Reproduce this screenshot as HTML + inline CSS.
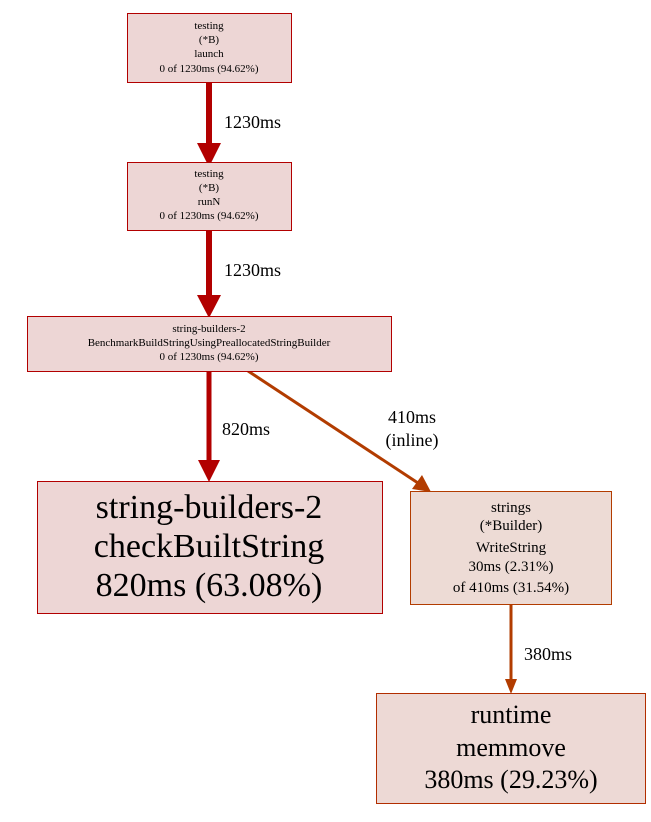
<!DOCTYPE html>
<html><head><meta charset="utf-8"><style>
html,body{margin:0;padding:0;background:#fff;}
text{font-family:"Liberation Serif",serif;}
</style></head><body>
<svg width="651" height="817" viewBox="0 0 651 817" xmlns="http://www.w3.org/2000/svg">
<rect width="651" height="817" fill="#fff"/>
<!-- edges -->
<line x1="209" y1="82" x2="209" y2="145" stroke="#b20000" stroke-width="6"/>
<polygon points="197,143 221,143 209,167" fill="#b20000"/>
<text x="224" y="128" font-size="18">1230ms</text>
<line x1="209" y1="230" x2="209" y2="297" stroke="#b20000" stroke-width="6"/>
<polygon points="197,295 221,295 209,318" fill="#b20000"/>
<text x="224" y="276" font-size="18">1230ms</text>
<line x1="209" y1="371" x2="209" y2="462" stroke="#b20000" stroke-width="5"/>
<polygon points="198,460 220,460 209,482" fill="#b20000"/>
<text x="222" y="435" font-size="18">820ms</text>
<line x1="248" y1="371" x2="418" y2="483" stroke="#b23c00" stroke-width="3"/>
<polygon points="412,489 422,475 431,492" fill="#b23c00"/>
<text x="412" y="423" font-size="18" text-anchor="middle">410ms</text>
<text x="412" y="446" font-size="18" text-anchor="middle">(inline)</text>
<line x1="511" y1="604" x2="511" y2="680" stroke="#b23c00" stroke-width="3"/>
<polygon points="505,679 517,679 511,694" fill="#b23c00"/>
<text x="524" y="660" font-size="18">380ms</text>
<!-- nodes -->
<g font-size="11" text-anchor="middle">
<rect x="127.5" y="13.5" width="164" height="69" fill="#edd6d5" stroke="#b20000"/>
<text x="209" y="29">testing</text><text x="209" y="43">(*B)</text><text x="209" y="57">launch</text><text x="209" y="72">0 of 1230ms (94.62%)</text>
<rect x="127.5" y="162.5" width="164" height="68" fill="#edd6d5" stroke="#b20000"/>
<text x="209" y="177">testing</text><text x="209" y="191">(*B)</text><text x="209" y="205">runN</text><text x="209" y="219">0 of 1230ms (94.62%)</text>
<rect x="27.5" y="316.5" width="364" height="55" fill="#edd6d5" stroke="#b20000"/>
<text x="209" y="332">string-builders-2</text><text x="209" y="346">BenchmarkBuildStringUsingPreallocatedStringBuilder</text><text x="209" y="360">0 of 1230ms (94.62%)</text>
</g>
<rect x="37.5" y="481.5" width="345" height="132" fill="#edd6d5" stroke="#b20000"/>
<g font-size="34" text-anchor="middle">
<text x="209" y="518">string-builders-2</text><text x="209" y="557">checkBuiltString</text><text x="209" y="596">820ms (63.08%)</text>
</g>
<rect x="410.5" y="491.5" width="201" height="113" fill="#eddbd5" stroke="#b23c00"/>
<g font-size="15" text-anchor="middle">
<text x="511" y="512">strings</text><text x="511" y="530">(*Builder)</text><text x="511" y="552">WriteString</text><text x="511" y="571">30ms (2.31%)</text><text x="511" y="592">of 410ms (31.54%)</text>
</g>
<rect x="376.5" y="693.5" width="269" height="110" fill="#edd9d5" stroke="#b22e00"/>
<g font-size="26" text-anchor="middle">
<text x="511" y="723">runtime</text><text x="511" y="756">memmove</text><text x="511" y="788">380ms (29.23%)</text>
</g>
</svg>
</body></html>
